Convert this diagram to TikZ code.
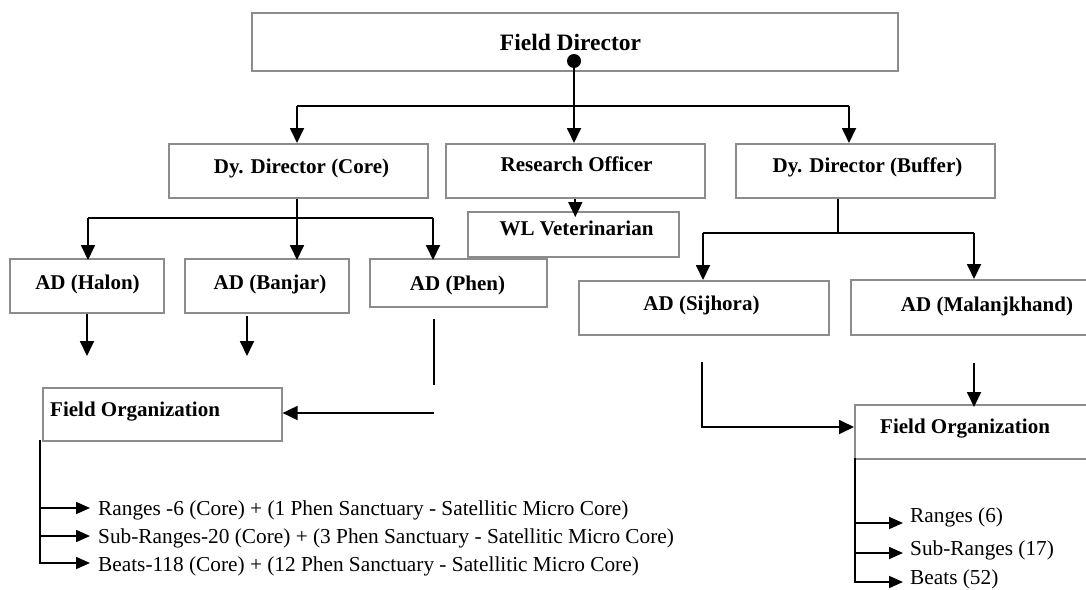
\documentclass[tikz,border=0pt]{standalone}
\usepackage{fontspec}
\setmainfont{Liberation Serif}
\usetikzlibrary{arrows.meta,calc}
\definecolor{boxgray}{RGB}{140,140,140}
\begin{document}
\begin{tikzpicture}[x=1pt,y=-1pt,
  box/.style={draw=boxgray, line width=1.6pt, inner sep=0pt, anchor=north west, rectangle},
  bt/.style={font=\fontsize{21}{25}\selectfont\bfseries, inner sep=0pt, anchor=base},
  lt/.style={font=\fontsize{21.3}{25}\selectfont, inner sep=0pt, anchor=base west},
  conn/.style={line width=1.8pt, line join=miter},
  arr/.style={conn, -{Triangle[length=15pt,width=14pt]}},
  sarr/.style={conn, -{Triangle[length=14pt,width=12pt]}}]
\useasboundingbox (0,0) rectangle (1086,589);

% boxes
\node[box, minimum width=646, minimum height=58] (fd) at (251,12) {};
\node[box, minimum width=259, minimum height=54] (dc) at (168,143) {};
\node[box, minimum width=259, minimum height=54] (ro) at (445,143) {};
\node[box, minimum width=259, minimum height=54] (db) at (735,143) {};
\node[box, minimum width=154, minimum height=54] (ah) at (9,258) {};
\node[box, minimum width=164, minimum height=54] (ab) at (184,258) {};
\node[box, minimum width=177, minimum height=48] (ap) at (369,258) {};
\node[box, minimum width=211, minimum height=45] (wl) at (467,211) {};
\node[box, minimum width=250, minimum height=54] (sj) at (578,280) {};
\node[box, minimum width=248, minimum height=55] (mk) at (850,279) {};
\node[box, minimum width=239, minimum height=53] (fo1) at (42,387) {};
\node[box, minimum width=240, minimum height=54] (fo2) at (854,404) {};

% box texts
\node[bt, font=\fontsize{23.5}{28}\selectfont\bfseries] (fdt) at (570.5,50) {Field Director};
\node[bt] (dct) at (301.5,173) {Dy. Director (Core)};
\node[bt] (rot) at (576.5,171) {Research Officer};
\node[bt] (dbt) at (867.5,172) {Dy. Director (Buffer)};
\node[bt] (aht) at (87.5,289) {AD (Halon)};
\node[bt] (abt) at (270,289) {AD (Banjar)};
\node[bt] (apt) at (457.5,290) {AD (Phen)};
\node[bt] (wlt) at (576.5,235) {WL Veterinarian};
\node[bt] (sjt) at (701.5,310) {AD (Sijhora)};
\node[bt] (mkt) at (987,311) {AD (Malanjkhand)};
\node[bt, anchor=base west] (fo1t) at (50,416) {Field Organization};
\node[bt, anchor=base west] (fo2t) at (880,433) {Field Organization};

% list texts
\node[lt] (l1) at (98,515) {Ranges -6 (Core) + (1 Phen Sanctuary - Satellitic Micro Core)};
\node[lt] (l2) at (98,543) {Sub-Ranges-20 (Core) + (3 Phen Sanctuary - Satellitic Micro Core)};
\node[lt] (l3) at (98,571) {Beats-118 (Core) + (12 Phen Sanctuary - Satellitic Micro Core)};
\node[lt] (m1) at (910,522) {Ranges (6)};
\node[lt] (m2) at (910,555) {Sub-Ranges (17)};
\node[lt] (m3) at (910,584) {Beats (52)};

% Field Director connectors
\node[circle, fill=black, inner sep=0pt, minimum size=14] (dot) at (574,61) {};
\draw[arr] (dot.center) -- (dot.center |- ro.north);
\coordinate (j1l) at (297,106);
\coordinate (j1r) at (849,106);
\draw[conn] (j1l) -- (j1r);
\draw[arr] (j1l) -- (j1l |- dc.north);
\draw[arr] (j1r) -- (j1r |- db.north);

% Research Officer -> WL Veterinarian
\coordinate (wtop) at (ro.south |- wl.north);
\draw[arr] (ro.south) -- ([yshift=-6pt]wtop);

% Dy Director (Core)
\coordinate (j2) at (297,218);
\coordinate (j2l) at (88,218);
\coordinate (j2r) at (433,218);
\draw[conn] (dc.south -| j2) -- (j2);
\draw[conn] (j2l) -- (j2r);
\draw[arr] (j2l) -- ([yshift=-2pt]j2l |- ah.north);
\draw[arr] (j2) -- ([yshift=-2pt]j2 |- ab.north);
\draw[arr] (j2r) -- ([yshift=-2pt]j2r |- ap.north);

% Dy Director (Buffer)
\coordinate (j3) at (838,233);
\coordinate (j3l) at (703,233);
\coordinate (j3r) at (974,233);
\draw[conn] (db.south -| j3) -- (j3);
\draw[conn] (j3l) -- (j3r);
\draw[arr] (j3l) -- (j3l |- sj.north);
\draw[arr] (j3r) -- (j3r |- mk.north);

% AD arrows (core side)
\coordinate (ha) at (87,356);
\draw[arr] (ah.south -| ha) -- (ha);
\coordinate (ba0) at (247,316);
\coordinate (ba) at (247,356);
\draw[arr] (ba0) -- (ba);
\coordinate (ph0) at (434,319);
\coordinate (ph1) at (434,385);
\draw[conn] (ph0) -- (ph1);
\coordinate (ph2) at (434,413);
\draw[arr] (ph2) -- (ph2 -| fo1.east);

% left field organization list
\coordinate (v1) at (40,440);
\coordinate (r1) at (40,508);
\coordinate (r2) at (40,536);
\coordinate (r3) at (40,563);
\path (r1 -| l1.west) coordinate (t1);
\path (r2 -| l2.west) coordinate (t2);
\path (r3 -| l3.west) coordinate (t3);
\draw[sarr] (v1) -- (r3) -- ([xshift=-8pt]t3);
\draw[sarr] (r1) -- ([xshift=-8pt]t1);
\draw[sarr] (r2) -- ([xshift=-8pt]t2);

% buffer side
\coordinate (sj0) at (702,362);
\coordinate (sj1) at (702,427);
\draw[arr] (sj0) -- (sj1) -- (sj1 -| fo2.west);
\coordinate (mk0) at (974,363);
\coordinate (mk1) at (mk0 |- fo2.north);
\draw[arr] (mk0) -- ([yshift=-3pt]mk1);

% right field organization list
\coordinate (v2) at (855,458);
\coordinate (s1) at (855,523);
\coordinate (s2) at (855,553);
\coordinate (s3) at (855,582);
\path (s1 -| m1.west) coordinate (u1);
\path (s2 -| m2.west) coordinate (u2);
\path (s3 -| m3.west) coordinate (u3);
\draw[sarr] (v2) -- (s3) -- ([xshift=-7pt]u3);
\draw[sarr] (s1) -- ([xshift=-7pt]u1);
\draw[sarr] (s2) -- ([xshift=-7pt]u2);
\end{tikzpicture}
\end{document}
